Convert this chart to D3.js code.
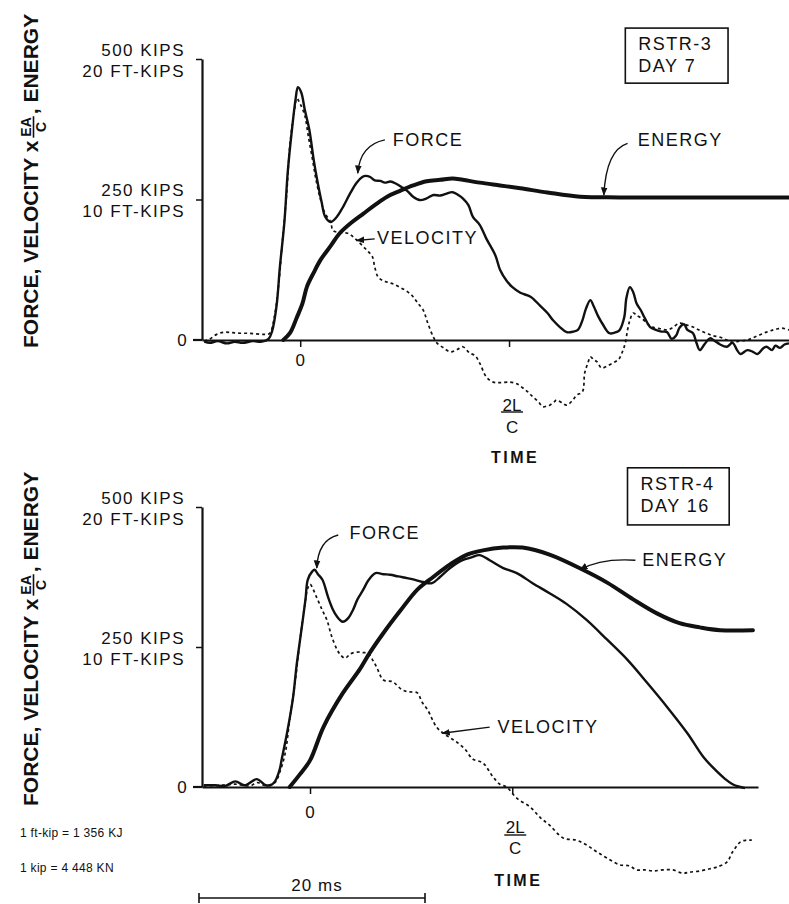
<!DOCTYPE html>
<html>
<head>
<meta charset="utf-8">
<script src="https://cdn.jsdelivr.net/npm/d3@7"></script>
<style>
  body { margin: 0; background: #fff; }
  text { font-family: "Liberation Sans", Arial, Helvetica, sans-serif; fill: #111; }
</style>
</head>
<body>
<svg id="chart" width="789" height="904"></svg>
<script>
// value axis: kips for force / velocity x EA/C, ft-kips for energy (same axis)
const forceMax = 500
const energyMax = 20
const yTickValues = [250, 500]
const yTickLines = { 250: ['250 KIPS', '10 FT-KIPS'], 500: ['500 KIPS', '20 FT-KIPS'] }

// RSTR-3, day 7 -- [time (ms), kips]
const topForce = [
  [-8.5, -3], [-8.0, -5], [-7.3, -2], [-6.5, -6], [-5.8, -3], [-5.1, -5], [-4.2, -2], [-3.4, -3],
  [-2.8, 2], [-2.5, 15], [-2.1, 60], [-1.8, 130], [-1.4, 210], [-1.1, 300], [-0.7, 380], [-0.4, 430],
  [-0.2, 450], [0.1, 440], [0.4, 410], [0.8, 375], [1.2, 320], [1.5, 285], [1.9, 245], [2.2, 220],
  [2.7, 210], [3.2, 218], [3.8, 237], [4.4, 260], [5.0, 280], [5.5, 290], [5.8, 292], [6.2, 290],
  [6.6, 284], [7.1, 283], [7.5, 280], [8.0, 282], [8.5, 278], [9.0, 272], [9.5, 265], [10.0, 255],
  [10.6, 249], [11.2, 252], [11.8, 258], [12.4, 257], [12.9, 260], [13.5, 263], [14.0, 258], [14.4, 252],
  [14.9, 240], [15.3, 219], [15.9, 205], [16.5, 180], [17.3, 150], [17.7, 125], [18.3, 105], [18.8, 94],
  [19.5, 84], [20.4, 77], [21.2, 62], [21.9, 48], [22.4, 35], [23.0, 23], [23.6, 14], [24.2, 15],
  [24.6, 18], [25.0, 35], [25.3, 55], [25.7, 71], [26.0, 60], [26.4, 42], [26.8, 28], [27.4, 12],
  [28.0, 14], [28.3, 18], [28.7, 40], [28.9, 75], [29.2, 94], [29.5, 85], [29.8, 65], [30.2, 52],
  [30.5, 40], [31.0, 23], [31.5, 18], [32.0, 15], [32.5, 14], [32.9, 2], [33.3, 8], [33.6, 22],
  [34.0, 28], [34.3, 18], [34.8, 12], [35.1, -5], [35.4, -18], [35.8, -8], [36.3, 3], [36.6, 0],
  [37.2, -8], [37.8, -12], [38.3, -5], [38.7, -18], [39.0, -25], [39.6, -18], [40.1, -21], [40.5, -25],
  [41.0, -15], [41.3, -12], [41.8, -18], [42.1, -10], [42.5, -14], [42.9, -8], [43.3, -6]
]
const topVelocity = [
  [-8.5, -2], [-8.0, 2], [-7.4, 10], [-6.7, 14], [-6.0, 13], [-5.3, 12], [-4.6, 12], [-3.9, 11],
  [-3.2, 10], [-2.7, 12], [-2.3, 40], [-1.9, 100], [-1.6, 170], [-1.2, 260], [-0.9, 350], [-0.5, 410],
  [-0.3, 430], [0.0, 420], [0.4, 400], [0.7, 365], [1.1, 320], [1.4, 285], [1.8, 250], [2.2, 225],
  [2.7, 210], [2.9, 195], [3.5, 191], [4.2, 190], [4.6, 185], [5.0, 178], [5.6, 166], [6.0, 158],
  [6.4, 148], [6.6, 130], [6.9, 112], [7.3, 106], [7.7, 103], [8.2, 100], [8.8, 94], [9.5, 86],
  [10.0, 77], [10.4, 66], [10.9, 53], [11.3, 30], [11.8, 5], [12.1, -5], [12.7, -14], [13.3, -21],
  [13.9, -17], [14.4, -12], [15.0, -23], [15.5, -28], [15.9, -41], [16.5, -66], [17.1, -75], [17.7, -76],
  [18.6, -75], [19.2, -78], [19.7, -85], [20.2, -93], [20.6, -101], [21.1, -110], [21.5, -119], [21.9, -117],
  [22.1, -116], [22.5, -110], [22.7, -107], [23.2, -112], [23.6, -116], [24.1, -108], [24.5, -98], [25.0, -92],
  [25.2, -59], [25.5, -40], [25.7, -30], [26.0, -35], [26.3, -39], [26.7, -50], [27.2, -46], [27.7, -41],
  [28.1, -36], [28.3, -32], [28.6, -18], [28.8, -5], [29.0, 18], [29.2, 35], [29.5, 48], [29.8, 44],
  [30.4, 36], [30.8, 28], [31.2, 23], [31.9, 20], [32.5, 18], [33.0, 22], [33.6, 30], [34.2, 27],
  [34.8, 23], [35.4, 17], [36.0, 12], [36.5, 8], [37.2, 5], [37.8, 0], [38.3, -4], [38.9, -2],
  [39.6, 0], [40.1, 4], [40.7, 9], [41.3, 14], [41.9, 18], [42.3, 20], [42.7, 21], [43.3, 18]
]
// [time (ms), ft-kips]
const topEnergy = [
  [-1.5, 0], [-0.9, 0.5], [-0.3, 1.6], [0.2, 2.6], [0.6, 3.8], [1.2, 4.8], [1.8, 5.7], [2.7, 6.7],
  [3.5, 7.6], [4.6, 8.4], [5.6, 9.0], [6.6, 9.6], [7.7, 10.2], [8.8, 10.6], [10.0, 11.0], [11.2, 11.3],
  [12.4, 11.4], [13.5, 11.5], [14.4, 11.4], [15.9, 11.2], [17.7, 11.0], [19.5, 10.8], [21.9, 10.5],
  [24.8, 10.2], [28.3, 10.15], [35.4, 10.15], [43.3, 10.15]
]
const topTwoLC = 18.5

// RSTR-4, day 16
const bottomForce = [
  [-9.4, 3], [-8.4, 3], [-7.5, 2], [-6.6, 10], [-5.8, 3], [-4.7, 14], [-4.0, 4], [-3.5, 3],
  [-3.1, 10], [-2.7, 30], [-2.5, 50], [-2.0, 100], [-1.5, 160], [-1.2, 215], [-0.9, 260], [-0.4, 335],
  [-0.2, 370], [0.2, 385], [0.4, 388], [0.7, 380], [1.1, 370], [1.6, 339], [2.0, 318], [2.4, 304],
  [2.9, 295], [3.4, 302], [3.8, 316], [4.2, 335], [4.7, 352], [5.2, 370], [5.8, 382], [6.5, 380],
  [7.1, 379], [7.8, 376], [8.6, 373], [9.3, 370], [10.0, 366], [10.8, 364], [11.5, 375], [12.4, 391],
  [13.5, 405], [14.3, 410], [15.0, 414], [15.9, 405], [17.1, 391], [18.3, 382], [19.7, 364], [21.2, 346],
  [22.7, 327], [24.5, 298], [26.3, 263], [28.1, 227], [29.8, 187], [31.6, 143], [33.4, 96], [34.8, 54],
  [35.7, 34], [36.7, 15], [37.4, 5], [38.1, 0], [38.5, -2]
]
const bottomVelocity = [
  [-9.4, 2], [-8.0, 3], [-6.6, 5], [-5.3, 2], [-4.7, 8], [-4.0, 3], [-3.1, 8], [-2.7, 25],
  [-2.2, 60], [-1.8, 120], [-1.3, 190], [-0.9, 260], [-0.5, 320], [-0.2, 355], [0.0, 362], [0.6, 338],
  [1.1, 315], [1.5, 298], [1.9, 270], [2.4, 245], [2.7, 236], [3.1, 230], [3.6, 238], [4.2, 241],
  [4.7, 240], [5.1, 239], [5.6, 225], [5.9, 214], [6.5, 191], [7.3, 188], [8.2, 173], [8.8, 170],
  [9.5, 168], [9.9, 152], [10.4, 138], [11.2, 107], [11.8, 96], [12.4, 88], [13.0, 80], [13.7, 68],
  [14.4, 50], [15.3, 43], [16.2, 18], [16.8, 5], [17.4, 0], [18.3, -20], [19.5, -36], [20.4, -55],
  [21.2, -68], [22.4, -91], [23.6, -95], [24.5, -104], [25.4, -116], [26.3, -127], [27.4, -139], [28.3, -141],
  [28.9, -148], [29.6, -148], [30.4, -150], [31.2, -148], [32.1, -148], [33.0, -154], [33.6, -152], [34.5, -150],
  [35.4, -146], [36.0, -143], [36.9, -134], [37.4, -116], [38.1, -98], [38.6, -95], [39.1, -95]
]
const bottomEnergy = [
  [-1.8, 0], [-0.9, 0.9], [0.0, 1.9], [1.2, 4.3], [2.9, 6.7], [4.4, 8.4], [5.3, 9.6], [6.5, 11.0],
  [8.0, 12.6], [9.5, 14.1], [10.9, 15.0], [12.4, 15.9], [13.9, 16.6], [15.3, 16.9], [17.1, 17.1], [18.8, 17.1],
  [21.2, 16.6], [24.2, 15.5], [26.3, 14.6], [28.6, 13.4], [30.7, 12.4], [32.7, 11.7], [34.5, 11.4],
  [36.3, 11.2], [39.2, 11.2]
]
const bottomTwoLC = 17.9

// curve labels: text anchor, arrow start, optional bend, arrow tip -- [ms, kips]
const topNotes = [
  { text: 'FORCE', at: [8.2, 356], from: [7.5, 356], bend: [5.3, 347], tip: [5.1, 297] },
  { text: 'VELOCITY', at: [6.8, 181], from: [6.6, 180], bend: null, tip: [5.0, 177] },
  { text: 'ENERGY', at: [29.9, 356], from: [29.0, 350], bend: [27.1, 338], tip: [26.9, 258] }
]
const bottomNotes = [
  { text: 'FORCE', at: [3.5, 454], from: [2.5, 450], bend: [0.7, 441], tip: [0.6, 391] },
  { text: 'VELOCITY', at: [16.6, 107], from: [15.9, 107], bend: null, tip: [11.7, 96] },
  { text: 'ENERGY', at: [29.4, 405], from: [28.8, 405], bend: [25.7, 409], tip: [23.9, 388] }
]

const footNotes = ['1 ft-kip = 1 356 KJ', '1 kip = 4 448 KN']

const panels = [
  {
    force: topForce, velocity: topVelocity, energy: topEnergy, twoLC: topTwoLC, notes: topNotes,
    tag: ['RSTR-3', 'DAY 7'], tagBox: [28.8, 37.9, 555, 457],
    xDomain: [-8.7, 43.3], xRange: [202, 789], yRange: [340, 59],
    zeroLabelDy: 20, fracDy: [65, 72, 87], timeDy: 117, titleEnd: 348
  },
  {
    force: bottomForce, velocity: bottomVelocity, energy: bottomEnergy, twoLC: bottomTwoLC, notes: bottomNotes,
    tag: ['RSTR-4', 'DAY 16'], tagBox: [28.1, 37.1, 570, 468],
    xDomain: [-9.56, 39.65], xRange: [202, 758], yRange: [787, 507],
    zeroLabelDy: 25, fracDy: [40, 48, 61], timeDy: 93, titleEnd: 806
  }
]

const svg = d3.select('#chart')
const ink = '#111'

svg.append('defs').append('marker')
  .attr('id', 'arrow')
  .attr('viewBox', '0 0 10 10')
  .attr('refX', 9)
  .attr('refY', 5)
  .attr('markerWidth', 6)
  .attr('markerHeight', 6)
  .attr('orient', 'auto')
  .append('path')
  .attr('d', 'M0,1L10,5L0,9Z')
  .attr('fill', ink)

/**
 * Rotated axis title with the EA/C fraction, laid out piece by piece.
 */
function drawTitle (endY) {
  const g = svg.append('g').attr('transform', `translate(38,${endY}) rotate(-90)`)
  const main = { 'font-size': 21, 'font-weight': 'bold' }
  let cx = 0
  const put = (str, attrs, dy) => {
    const t = g.append('text').attr('x', cx).attr('y', dy).text(str)
    Object.entries(attrs).forEach(([k, v]) => t.attr(k, v))
    return t
  }
  const t1 = put('FORCE, VELOCITY x', main, 0)
  cx += t1.node().getComputedTextLength() + 4
  const num = put('EA', { 'font-size': 14, 'font-weight': 'bold' }, -7)
  const den = put('C', { 'font-size': 14, 'font-weight': 'bold' }, 8)
  const fw = Math.max(num.node().getComputedTextLength(), den.node().getComputedTextLength())
  den.attr('x', cx + (fw - den.node().getComputedTextLength()) / 2)
  g.append('line').attr('x1', cx - 1).attr('x2', cx + fw + 1).attr('y1', -4.5).attr('y2', -4.5)
    .attr('stroke', ink).attr('stroke-width', 1.6)
  cx += fw + 3
  put(', ENERGY', main, 0)
}

function drawPanel (p) {
  const x = d3.scaleLinear().domain(p.xDomain).range(p.xRange)
  const y = d3.scaleLinear().domain([0, forceMax]).range(p.yRange)
  const yE = d3.scaleLinear().domain([0, energyMax]).range(p.yRange)
  const x0 = p.xRange[0]
  const zero = y(0)
  const g = svg.append('g')

  // value axis
  g.append('g')
    .attr('transform', `translate(${x0},0)`)
    .call(d3.axisLeft(y).tickValues(yTickValues).tickSize(6).tickSizeOuter(0).tickFormat(''))
    .call(a => a.select('.domain').attr('stroke', ink).attr('stroke-width', 2.2))
    .call(a => a.selectAll('.tick line').attr('stroke', ink).attr('stroke-width', 1.5))

  yTickValues.forEach(v => {
    yTickLines[v].forEach((s, i) => {
      g.append('text')
        .attr('x', 185)
        .attr('y', y(v) + (i === 0 ? -9 : 12))
        .attr('text-anchor', 'end')
        .attr('dominant-baseline', 'central')
        .attr('font-size', 17)
        .attr('letter-spacing', 1.5)
        .text(s)
    })
  })
  g.append('text')
    .attr('x', 182)
    .attr('y', zero)
    .attr('text-anchor', 'middle')
    .attr('dominant-baseline', 'central')
    .attr('font-size', 17)
    .text('0')

  // time axis
  g.append('g')
    .attr('transform', `translate(0,${zero})`)
    .call(d3.axisBottom(x).tickValues([0, p.twoLC]).tickSize(7).tickSizeOuter(0).tickFormat(''))
    .call(a => a.select('.domain').attr('stroke', ink).attr('stroke-width', 2.2))
    .call(a => a.selectAll('.tick line').attr('stroke', ink).attr('stroke-width', 1.5))
  g.append('line')
    .attr('x1', x0 - 9).attr('x2', x0)
    .attr('y1', zero).attr('y2', zero)
    .attr('stroke', ink).attr('stroke-width', 2.2)

  g.append('text')
    .attr('x', x(0))
    .attr('y', zero + p.zeroLabelDy)
    .attr('text-anchor', 'middle')
    .attr('dominant-baseline', 'central')
    .attr('font-size', 17)
    .text('0')

  const fx = x(p.twoLC) + 3
  g.append('text')
    .attr('x', fx).attr('y', zero + p.fracDy[0])
    .attr('text-anchor', 'middle').attr('dominant-baseline', 'central')
    .attr('font-size', 17).text('2L')
  g.append('line')
    .attr('x1', fx - 11).attr('x2', fx + 11)
    .attr('y1', zero + p.fracDy[1]).attr('y2', zero + p.fracDy[1])
    .attr('stroke', ink).attr('stroke-width', 1.4)
  g.append('text')
    .attr('x', fx).attr('y', zero + p.fracDy[2])
    .attr('text-anchor', 'middle').attr('dominant-baseline', 'central')
    .attr('font-size', 17).text('C')
  g.append('text')
    .attr('x', fx + 3).attr('y', zero + p.timeDy)
    .attr('text-anchor', 'middle').attr('dominant-baseline', 'central')
    .attr('font-size', 16).attr('font-weight', 'bold').attr('letter-spacing', 2.5)
    .text('TIME')

  // curves
  const curve = d3.curveCatmullRom.alpha(0.5)
  const kipLine = d3.line().x(d => x(d[0])).y(d => y(d[1])).curve(curve)
  const energyLine = d3.line().x(d => x(d[0])).y(d => yE(d[1])).curve(curve)

  g.append('path')
    .attr('d', kipLine(p.velocity))
    .attr('fill', 'none').attr('stroke', ink)
    .attr('stroke-width', 1.7).attr('stroke-dasharray', '3,3')
  g.append('path')
    .attr('d', kipLine(p.force))
    .attr('fill', 'none').attr('stroke', ink)
    .attr('stroke-width', 2.4).attr('stroke-linejoin', 'round')
  g.append('path')
    .attr('d', energyLine(p.energy))
    .attr('fill', 'none').attr('stroke', ink)
    .attr('stroke-width', 4).attr('stroke-linecap', 'round')

  // curve labels
  p.notes.forEach(n => {
    const [sx, sy] = [x(n.from[0]), y(n.from[1])]
    const [tx, ty] = [x(n.tip[0]), y(n.tip[1])]
    const d = n.bend
      ? `M${sx},${sy}Q${x(n.bend[0])},${y(n.bend[1])} ${tx},${ty}`
      : `M${sx},${sy}L${tx},${ty}`
    g.append('path')
      .attr('d', d)
      .attr('fill', 'none').attr('stroke', ink).attr('stroke-width', 1.4)
      .attr('marker-end', 'url(#arrow)')
    g.append('text')
      .attr('x', x(n.at[0])).attr('y', y(n.at[1]))
      .attr('dominant-baseline', 'central')
      .attr('font-size', 18).attr('letter-spacing', 1.5)
      .text(n.text)
  })

  // test tag
  const bx = x(p.tagBox[0])
  const by = y(p.tagBox[2])
  g.append('rect')
    .attr('x', bx).attr('y', by)
    .attr('width', x(p.tagBox[1]) - bx)
    .attr('height', y(p.tagBox[3]) - by)
    .attr('fill', 'none').attr('stroke', ink).attr('stroke-width', 1.6)
  p.tag.forEach((s, i) => {
    g.append('text')
      .attr('x', bx + 13).attr('y', by + 16 + i * 22)
      .attr('dominant-baseline', 'central')
      .attr('font-size', 18).attr('letter-spacing', 1.5)
      .text(s)
  })

  drawTitle(p.titleEnd)
}

panels.forEach(drawPanel)

// 20 ms scale bar
const barScale = d3.scaleLinear().domain([0, 20]).range([199, 425])
const bar = svg.append('g').attr('transform', 'translate(0,898)')
bar.append('line')
  .attr('x1', barScale(0)).attr('x2', barScale(20))
  .attr('stroke', ink).attr('stroke-width', 1.6)
;[0, 20].forEach(v => {
  bar.append('line')
    .attr('x1', barScale(v)).attr('x2', barScale(v))
    .attr('y1', -5).attr('y2', 5)
    .attr('stroke', ink).attr('stroke-width', 1.6)
})
bar.append('text')
  .attr('x', barScale(10) + 5).attr('y', -13)
  .attr('text-anchor', 'middle').attr('dominant-baseline', 'central')
  .attr('font-size', 17).attr('letter-spacing', 1)
  .text('20 ms')

footNotes.forEach((s, i) => {
  svg.append('text')
    .attr('x', 20).attr('y', 833 + i * 35)
    .attr('dominant-baseline', 'central')
    .attr('font-size', 12)
    .attr('letter-spacing', 0.3)
    .text(s)
})
</script>
</body>
</html>
